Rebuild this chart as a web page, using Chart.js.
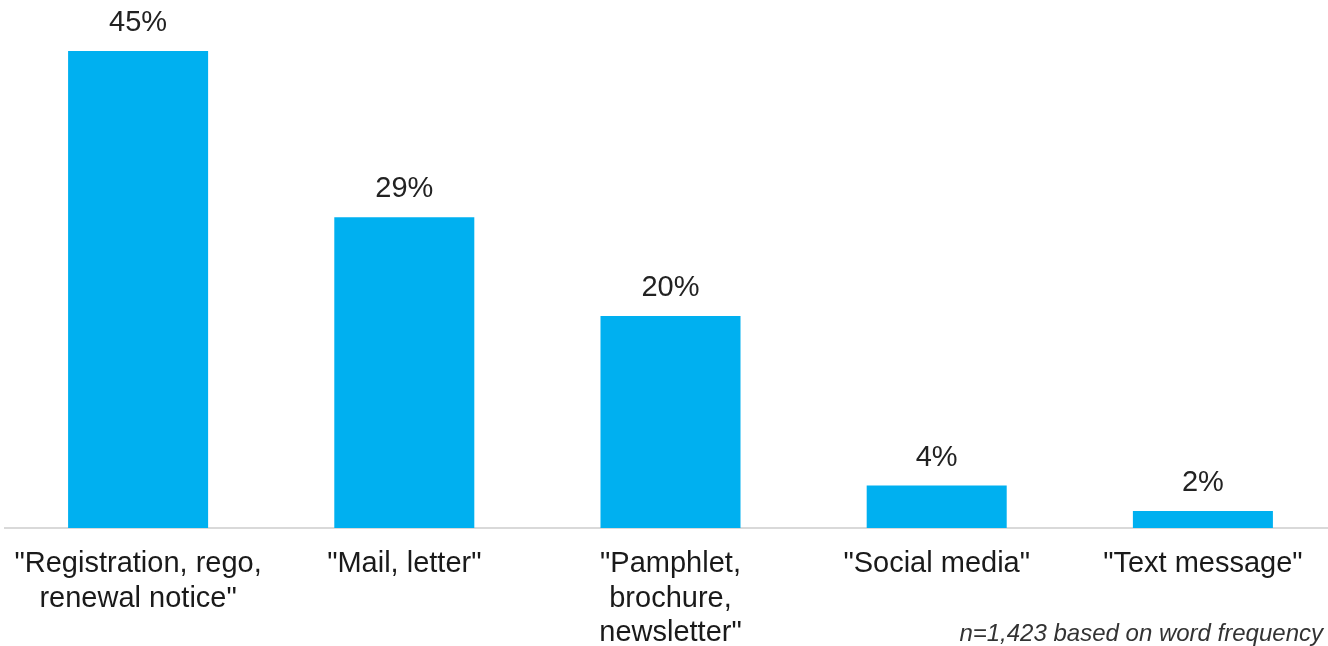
<!DOCTYPE html>
<html>
<head>
<meta charset="utf-8">
<script src="https://cdn.jsdelivr.net/npm/chart.js@4.4.1/dist/chart.umd.min.js"></script>
<style>
  html, body { margin: 0; padding: 0; background: #fff; overflow: hidden; }
  #wrap { position: relative; width: 1336px; height: 646px; }
  #note { position: absolute; right: 5px; top: 619px; font-family: "Liberation Sans", Arial, sans-serif;
          font-style: italic; font-size: 24px; line-height: 27px; color: #333; white-space: nowrap; }
  #wrapOuter { width: 1328px; height: 646px; overflow: hidden; position: relative; }
</style>
</head>
<body>
<div id="wrapOuter">
  <div id="wrap"><canvas id="c" width="1336" height="646"></canvas></div>
  <div id="note">n=1,423 based on word frequency</div>
</div>
<script>
const categories = [
  ['"Registration, rego,', 'renewal notice"'],
  ['"Mail, letter"'],
  ['"Pamphlet,', 'brochure,', 'newsletter"'],
  ['"Social media"'],
  ['"Text message"']
];
const values = [45, 29.3, 20, 4, 1.6];
const valueLabels = ['45%', '29%', '20%', '4%', '2%'];

const labelPlugin = {
  id: 'valueLabels',
  afterDatasetsDraw(chart) {
    const ctx = chart.ctx;
    const meta = chart.getDatasetMeta(0);
    ctx.save();
    ctx.font = '29px "Liberation Sans", Arial, sans-serif';
    ctx.fillStyle = '#222';
    ctx.textAlign = 'center';
    ctx.textBaseline = 'alphabetic';
    meta.data.forEach((bar, i) => {
      ctx.fillText(valueLabels[i], bar.x, bar.y - 20);
    });
    ctx.restore();
  }
};

new Chart(document.getElementById('c'), {
  type: 'bar',
  data: {
    labels: categories,
    datasets: [{
      data: values,
      backgroundColor: '#00b0f0',
      barPercentage: 0.526,
      categoryPercentage: 1
    }]
  },
  options: {
    responsive: false,
    animation: false,
    layout: { padding: { left: 5, right: 0, top: 0, bottom: 0 } },
    plugins: { legend: { display: false }, tooltip: { enabled: false } },
    scales: {
      x: {
        grid: { display: false, drawTicks: false },
        border: { display: true, color: '#d9d9d9', width: 2 },
        ticks: {
          color: '#1a1a1a',
          font: { family: '"Liberation Sans", Arial, sans-serif', size: 29, lineHeight: 1.19 },
          padding: 19,
          maxRotation: 0,
          autoSkip: false
        },
        afterFit(scale) { scale.height = 118; scale.paddingLeft = 0; scale.paddingRight = 0; }
      },
      y: {
        display: false,
        min: 0,
        max: 49.8
      }
    }
  },
  plugins: [labelPlugin]
});
</script>
</body>
</html>
